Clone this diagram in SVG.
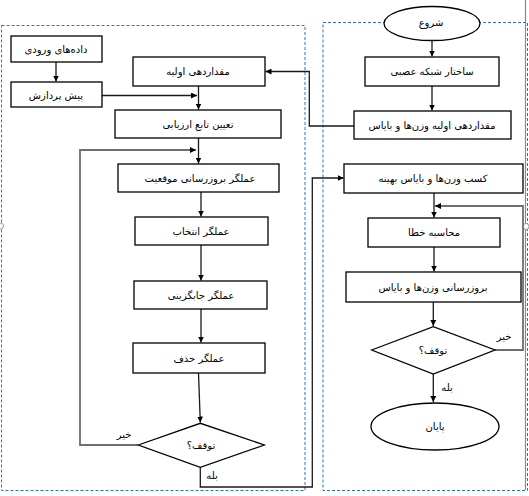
<svg xmlns="http://www.w3.org/2000/svg" width="529" height="496" viewBox="0 0 529 496">
<style>
.box{fill:#fff;stroke:#000;stroke-width:1.3}
.frame{fill:none;stroke:#2e75b6;stroke-width:1;stroke-dasharray:3 2}
.c{fill:none;stroke:#1a1a1a;stroke-width:1.3}
.g{fill:none;stroke:#6e6e6e;stroke-width:1.8}
text{font-family:"DejaVu Sans",sans-serif;font-size:10px;fill:#000;text-anchor:middle;dominant-baseline:central;direction:rtl;unicode-bidi:embed}
</style>
<defs>
<marker id="ah" viewBox="0 0 10 10" refX="10" refY="5" markerWidth="6" markerHeight="6" markerUnits="userSpaceOnUse" orient="auto">
<path d="M0,0L10,5L0,10z" fill="#000"/>
</marker>
</defs>
<rect width="529" height="496" fill="#fff"/>
<line x1="525.5" y1="0" x2="525.5" y2="490" stroke="#8a8a8a" stroke-width="1.2"/>
<rect class="frame" x="1.5" y="25.5" width="303.5" height="465"/>
<rect class="frame" x="323" y="22.5" width="204.5" height="468"/>
<circle cx="0.5" cy="226" r="3" fill="#fff" stroke="#999" stroke-width="1"/>
<circle cx="526" cy="226.5" r="3" fill="#fff" stroke="#999" stroke-width="1"/>
<g id="connectors">
<path class="c" d="M56,62V81.5" marker-end="url(#ah)"/>
<path class="c" d="M102,95.5H197" marker-end="url(#ah)"/>
<path class="c" d="M198.5,86V109.5" marker-end="url(#ah)"/>
<path class="c" d="M198.5,138V163.5" marker-end="url(#ah)"/>
<path class="g" d="M138,445H80V150H196" marker-end="url(#ah)"/>
<path class="c" d="M201,192V216.5" marker-end="url(#ah)"/>
<path class="c" d="M201,245V280.5" marker-end="url(#ah)"/>
<path class="c" d="M201,309V342.5" marker-end="url(#ah)"/>
<path class="c" d="M198.5,373L200.3,422.5" marker-end="url(#ah)"/>
<path class="c" d="M200.3,467.3V487H312.3V178H343.5" marker-end="url(#ah)"/>
<path class="c" d="M432,41V56.5" marker-end="url(#ah)"/>
<path class="c" d="M432,86V110.5" marker-end="url(#ah)"/>
<path class="c" d="M354,126H309.3V71.5H265.5" marker-end="url(#ah)"/>
<path class="c" d="M434,193V217.5" marker-end="url(#ah)"/>
<path class="g" d="M495,350H523V206H435" marker-end="url(#ah)"/>
<path class="c" d="M434,247V271.5" marker-end="url(#ah)"/>
<path class="c" d="M433.3,302V326" marker-end="url(#ah)"/>
<path class="c" d="M433.3,374V402" marker-end="url(#ah)"/>
</g>
<g id="n-input"><rect class="box" x="11" y="36" width="91" height="26"/><text x="56" y="49">داده‌های ورودی</text></g>
<g id="n-preprocess"><rect class="box" x="11" y="82" width="91" height="25"/><text x="56" y="95">پیش پردازش</text></g>
<g id="n-init"><rect class="box" x="133" y="57" width="132" height="29"/><text x="198" y="71.5">مقداردهی اولیه</text></g>
<g id="n-fitness"><rect class="box" x="115" y="110" width="166" height="28"/><text x="198" y="124">تعیین تابع ارزیابی</text></g>
<g id="n-update"><rect class="box" x="118" y="164" width="161" height="28"/><text x="200" y="178">عملگر بروزرسانی موقعیت</text></g>
<g id="n-select"><rect class="box" x="135" y="217" width="133" height="28"/><text x="201" y="231">عملگر انتخاب</text></g>
<g id="n-replace"><rect class="box" x="134" y="281" width="133" height="28"/><text x="201" y="295">عملگر جابگزینی</text></g>
<g id="n-delete"><rect class="box" x="133" y="343" width="132" height="30"/><text x="199" y="358">عملگر حذف</text></g>
<g id="n-stop1"><polygon class="box" points="138.3,445 200.3,423.3 264.3,445 200.3,467.3"/><text x="201" y="445">توقف؟</text></g>
<text x="124" y="434">خیر</text>
<text x="212" y="475">بله</text>
<g id="n-start"><ellipse class="box" cx="432" cy="23.5" rx="48" ry="17"/><text x="431" y="22">شروع</text></g>
<g id="n-network"><rect class="box" x="365" y="57" width="134" height="29"/><text x="432" y="71.5">ساختار شبکه عصبی</text></g>
<g id="n-initw"><rect class="box" x="354" y="111" width="157" height="28"/><text x="432" y="125">مقداردهی اولیه وزن‌ها و بایاس</text></g>
<g id="n-best"><rect class="box" x="344" y="164" width="179" height="29"/><text x="433" y="178.5">کسب وزن‌ها و بایاس بهینه</text></g>
<g id="n-error"><rect class="box" x="368" y="218" width="132" height="29"/><text x="434" y="232.5">محاسبه خطا</text></g>
<g id="n-updatew"><rect class="box" x="346" y="272" width="175" height="30"/><text x="433" y="287">بروزرسانی وزن‌ها و بایاس</text></g>
<g id="n-stop2"><polygon class="box" points="371.7,350 433.3,326.7 495,350 433.3,374"/><text x="433" y="350">توقف؟</text></g>
<text x="504" y="336">خیر</text>
<text x="447" y="387">بله</text>
<g id="n-end"><ellipse class="box" cx="435" cy="426.5" rx="64" ry="23.5"/><text x="435" y="426">پایان</text></g>
</svg>
